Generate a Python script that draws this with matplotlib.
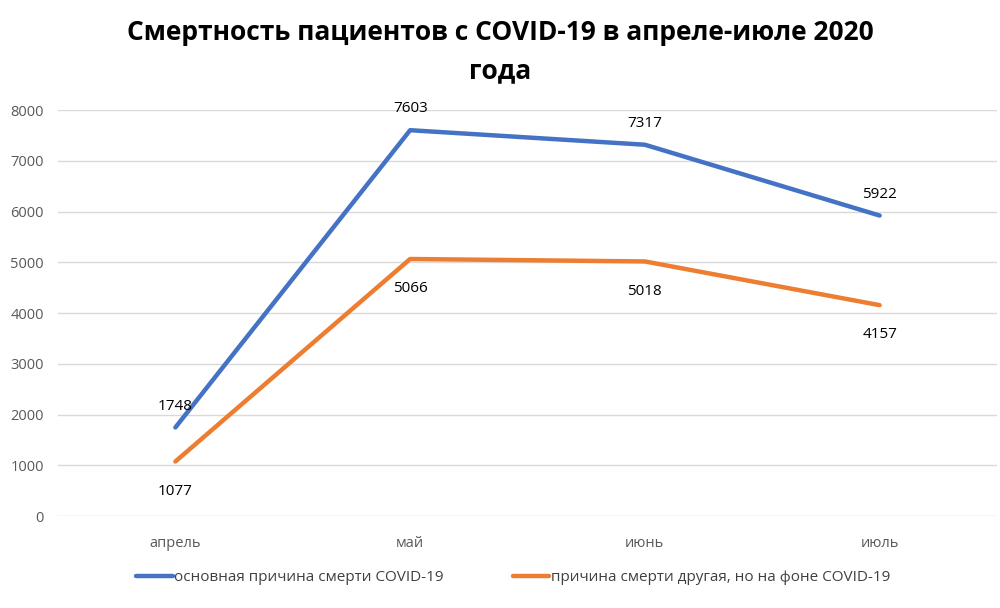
import matplotlib.pyplot as plt

# данные
months = ["апрель", "май", "июнь", "июль"]
main_cause = [1748, 7603, 7317, 5922]
other_cause = [1077, 5066, 5018, 4157]
label_main = "основная причина смерти COVID-19"
label_other = "причина смерти другая, но на фоне COVID-19"

plt.rcParams['font.family'] = ['Open Sans', 'DejaVu Sans']

fig = plt.figure(figsize=(10, 6.08), dpi=100)
ax = fig.add_axes([0.058, 0.151, 0.939, 0.668])

x = list(range(len(months)))
ax.plot(x, main_cause, color='#4472C4', lw=3.2, label=label_main, solid_capstyle='round')
ax.plot(x, other_cause, color='#ED7D31', lw=3.2, label=label_other, solid_capstyle='round')

# подписи значений
for xi, v in zip(x, main_cause):
    ax.annotate(str(v), (xi, v), xytext=(0, 10), textcoords='offset points',
                ha='center', va='bottom', fontsize=11, color='black')
for xi, v in zip(x, other_cause):
    ax.annotate(str(v), (xi, v), xytext=(0, -16), textcoords='offset points',
                ha='center', va='top', fontsize=11, color='black')

ax.set_xlim(-0.5, len(months) - 0.5)
ax.set_ylim(0, 8000)
ax.set_yticks(range(0, 8001, 1000))
ax.set_xticks(x)
ax.set_xticklabels(months)
ax.grid(axis='y', color='#D9D9D9', lw=1)
ax.set_axisbelow(True)
for s in ax.spines.values():
    s.set_visible(False)
ax.tick_params(axis='both', length=0, colors='#595959', labelsize=10.5)
ax.tick_params(axis='x', pad=14)
ax.tick_params(axis='y', pad=10)

fig.text(0.5, 0.968, "Смертность пациентов с COVID-19 в апреле-июле 2020\nгода",
         ha='center', va='top', fontsize=19, fontweight='bold', linespacing=1.5)

fig.legend(loc='lower center', bbox_to_anchor=(0.513, 0.015), ncol=2, frameon=False,
           fontsize=11, handlelength=2.4, handletextpad=0.1, columnspacing=4.5,
           labelcolor='#404040')

fig.savefig("out.png", dpi=100)
